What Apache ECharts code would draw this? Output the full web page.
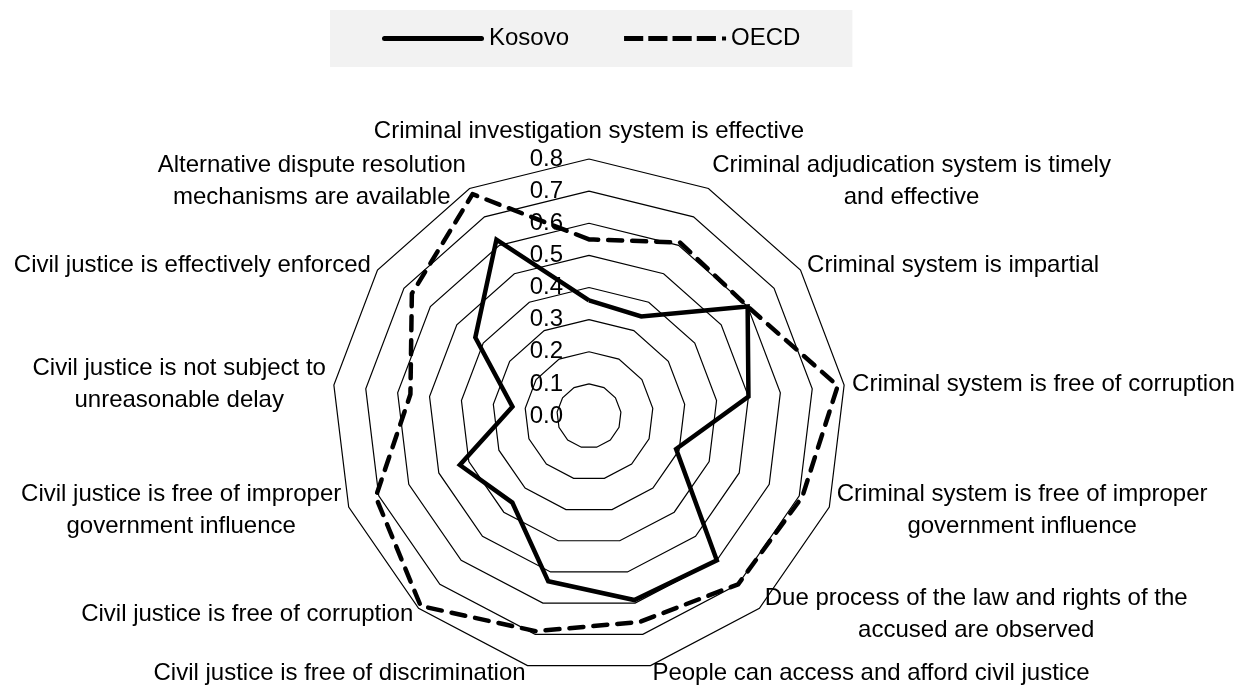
<!DOCTYPE html>
<html>
<head>
<meta charset="utf-8">
<script src="https://cdn.jsdelivr.net/npm/echarts@6/dist/echarts.min.js"></script>
<style>
  html, body { margin: 0; padding: 0; background: #fff; }
  #chart { width: 1239px; height: 689px; }
</style>
</head>
<body>
<div id="chart"></div>
<script>
// clockwise from the top
const categories = [
  'Criminal investigation system is effective',
  'Criminal adjudication system is timely\nand effective',
  'Criminal system is impartial',
  'Criminal system is free of corruption',
  'Criminal system is free of improper\ngovernment influence',
  'Due process of the law and rights of the\naccused are observed',
  'People can access and afford civil justice',
  'Civil justice is free of discrimination',
  'Civil justice is free of corruption',
  'Civil justice is free of improper\ngovernment influence',
  'Civil justice is not subject to\nunreasonable delay',
  'Civil justice is effectively enforced',
  'Alternative dispute resolution\nmechanisms are available'
]
const kosovo = [0.36, 0.35, 0.60, 0.50, 0.29, 0.60, 0.59, 0.53, 0.36, 0.43, 0.24, 0.43, 0.62]
const oecd = [0.55, 0.61, 0.60, 0.78, 0.71, 0.70, 0.66, 0.69, 0.79, 0.71, 0.56, 0.67, 0.78]
const axisMax = 0.8

const FONT = "'Liberation Sans', Arial, sans-serif"
const FS = 24

// echarts lays radar axes out counter-clockwise, so flip the order after the first one
const clockwise = (arr) => [arr[0]].concat(arr.slice(1).reverse())

const indicators = clockwise(categories).map((name, i) => {
  const ind = { name: name, min: 0, max: axisMax }
  if (i === 0) {
    // tick labels only on the top axis
    ind.axisLabel = {
      show: true,
      color: '#000',
      fontSize: FS,
      fontFamily: FONT,
      margin: 26,
      formatter: (v) => Number(v).toFixed(1)
    }
  }
  return ind
})

const chart = echarts.init(document.getElementById('chart'))

const option = {
  animation: false,
  backgroundColor: '#fff',
  legend: {
    left: 330,
    top: 10,
    backgroundColor: '#f2f2f2',
    padding: [14, 52, 14, 52],
    itemWidth: 102,
    itemHeight: 5,
    itemGap: 55,
    symbolKeepAspect: false,
    textStyle: { color: '#000', fontSize: FS, fontFamily: FONT, lineHeight: 29 },
    data: [
      { name: 'Kosovo', icon: 'path://M2.5,0h97a2.5,2.5 0 0 1 0,5h-97a2.5,2.5 0 0 1 0,-5z', itemStyle: { color: '#000', borderWidth: 0 } },
      { name: 'OECD', icon: 'path://M0,0h19v5h-19z M24,0h19v5h-19z M48,0h19v5h-19z M72,0h19v5h-19z M97,0.5h4v4h-4z', itemStyle: { color: '#000', borderWidth: 0 } }
    ]
  },
  radar: {
    center: [589, 416],
    radius: 257,
    startAngle: 90,
    splitNumber: 8,
    shape: 'polygon',
    nameGap: 8,
    indicator: indicators,
    axisName: {
      color: '#000',
      fontSize: FS,
      fontFamily: FONT,
      lineHeight: 32,
      formatter: (name) => name.split('\n').map(s => '{c|' + s + '}').join('\n'),
      rich: {
        c: { align: 'center', color: '#000', fontSize: FS, fontFamily: FONT, lineHeight: 32 }
      }
    },
    axisLine: { show: false },
    axisTick: { show: false },
    axisLabel: { show: false },
    splitArea: { show: false },
    splitLine: { lineStyle: { color: '#000', width: 1.2 } }
  },
  series: [
    {
      type: 'radar',
      symbol: 'none',
      data: [
        {
          name: 'OECD',
          value: clockwise(oecd),
          itemStyle: { color: '#000' },
          lineStyle: { color: '#000', width: 4.5, type: [14, 10], cap: 'round' }
        },
        {
          name: 'Kosovo',
          value: clockwise(kosovo),
          itemStyle: { color: '#000' },
          lineStyle: { color: '#000', width: 4.5, type: 'solid', join: 'miter' }
        }
      ]
    }
  ]
}
option && chart.setOption(option)
</script>
</body>
</html>
